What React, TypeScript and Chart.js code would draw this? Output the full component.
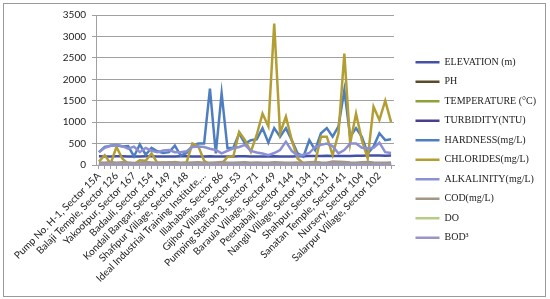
import React, { useEffect, useRef } from 'react';
import { Chart, registerables } from 'chart.js';

Chart.register(...registerables);

const categories = [
  'Pump No. H-1, Sector 15A', '', '',
  'Balaji Temple, Sector 126', '', '',
  'Yakootpur, Sector 167', '', '',
  'Badauli, Sector 154', '', '',
  'Kondali Bangar, Sector 149', '', '',
  'Shafipur Village, Sector 148', '', '',
  'Ideal Industrial Training Institute,...', '', '',
  'Illahabas, Sector 86', '', '',
  'Gijhor Village, Sector 53', '', '',
  'Pumping Station 3, Sector 71', '', '',
  'Baraula Village, Sector 49', '', '',
  'Peerbabaji, Sector 144', '', '',
  'Nangli Village, Sector 134', '', '',
  'Shahpur, Sector 131', '', '',
  'Sanatan Temple, Sector 41', '', '',
  'Nursery, Sector 104', '', '',
  'Salarpur Village, Sector 102', '', '',
];

const yTicks = [0, 500, 1000, 1500, 2000, 2500, 3000, 3500];

const seriesNames = [
  'ELEVATION (m)', 'PH', 'TEMPERATURE (°C)', 'TURBIDITY(NTU)', 'HARDNESS(mg/L)',
  'CHLORIDES(mg/L)', 'ALKALINITY(mg/L)', 'COD(mg/L)', 'DO', 'BOD³',
];

const elevation = [
  205, 200, 198, 202, 205, 200, 198, 200, 204, 206, 200, 198, 196, 200, 202, 205, 200,
  198, 200, 202, 200, 198, 196, 200, 202, 204, 200, 198, 196, 200, 202, 200, 198, 200,
  202, 205, 208, 210, 212, 215, 212, 210, 208, 212, 215, 218, 220, 222, 220, 218, 220,
];
const ph = [
  7.4, 7.2, 7.5, 7.3, 7.6, 7.4, 7.2, 7.3, 7.5, 7.4, 7.1, 7.3, 7.6, 7.4, 7.2, 7.3, 7.5,
  7.4, 7.2, 7.3, 7.5, 7.6, 7.4, 7.2, 7.3, 7.5, 7.4, 7.3, 7.2, 7.4, 7.5, 7.3, 7.4, 7.6,
  7.2, 7.3, 7.5, 7.4, 7.3, 7.2, 7.4, 7.5, 7.3, 7.4, 7.2, 7.3, 7.5, 7.4, 7.3, 7.2, 7.4,
];
const temperature = [
  26, 27, 25, 26, 28, 27, 26, 25, 27, 26, 28, 27, 26, 25, 26, 27, 28,
  26, 25, 27, 26, 27, 28, 26, 25, 26, 27, 26, 28, 27, 26, 25, 27, 26,
  28, 27, 26, 25, 26, 27, 28, 26, 27, 25, 26, 27, 26, 28, 27, 26, 25,
];
const turbidity = [
  2, 3, 1, 4, 2, 3, 5, 2, 1, 3, 2, 4, 3, 2, 1, 2, 3,
  4, 2, 3, 5, 2, 3, 1, 2, 4, 3, 2, 3, 2, 4, 3, 2, 1,
  2, 3, 4, 2, 3, 2, 1, 3, 4, 2, 3, 2, 4, 3, 2, 3, 2,
];
const hardness = [
  300, 420, 450, 460, 430, 440, 200, 480, 240, 400, 320, 280, 300, 450, 220, 280, 450,
  500, 500, 1780, 270, 1670, 390, 400, 740, 500, 580, 600, 860, 520, 860, 660, 860, 580,
  270, 195, 580, 350, 740, 860, 660, 900, 1750, 660, 860, 660, 270, 430, 740, 580, 600,
];
const chlorides = [
  80, 230, 30, 420, 150, 30, 20, 110, 100, 270, 50, 60, 40, 70, 40, 60, 500,
  440, 100, 10, 10, 30, 190, 200, 770, 580, 310, 700, 1200, 900, 3300, 740, 1130, 580,
  150, 40, 40, 60, 660, 660, 230, 740, 2600, 500, 1200, 580, 150, 1360, 1050, 1500, 1000,
];
const alkalinity = [
  300, 400, 450, 470, 440, 380, 430, 300, 400, 330, 300, 340, 350, 300, 300, 320, 420,
  430, 420, 380, 350, 270, 330, 390, 420, 470, 330, 290, 270, 230, 280, 350, 545, 330,
  220, 240, 280, 420, 470, 500, 440, 270, 350, 500, 500, 400, 390, 400, 520, 300, 280,
];
const cod = [
  60, 55, 70, 50, 65, 60, 45, 55, 70, 60, 50, 55, 65, 60, 55, 50, 60,
  65, 55, 50, 60, 70, 55, 50, 60, 65, 55, 60, 50, 55, 65, 60, 55, 50,
  60, 55, 65, 70, 60, 55, 80, 75, 70, 60, 55, 65, 70, 60, 55, 50, 60,
];
const dissolvedOxygen = [
  5.2, 5.6, 4.8, 5.1, 5.4, 4.9, 5.3, 5.0, 5.5, 4.7, 5.2, 5.1, 4.9, 5.3, 5.6, 5.0, 4.8,
  5.2, 5.4, 5.1, 4.9, 5.3, 5.0, 5.2, 5.5, 4.8, 5.1, 5.3, 4.9, 5.2, 5.0, 5.4, 5.1, 4.9,
  5.3, 5.2, 5.0, 4.8, 5.1, 5.4, 5.2, 4.9, 5.3, 5.0, 5.2, 5.1, 4.9, 5.3, 5.0, 5.2, 5.1,
];
const bod = [
  12, 10, 14, 11, 13, 12, 9, 11, 14, 12, 10, 11, 13, 12, 11, 10, 12,
  13, 11, 10, 12, 14, 11, 10, 12, 13, 11, 12, 10, 11, 13, 12, 11, 10,
  12, 11, 13, 14, 12, 11, 16, 15, 14, 12, 11, 13, 14, 12, 11, 10, 12,
];

const seriesValues = [
  elevation, ph, temperature, turbidity, hardness,
  chlorides, alkalinity, cod, dissolvedOxygen, bod,
];

const seriesColors = [
  '#4350a6', '#5b4b2b', '#8ea23a', '#4a3f8c', '#4f7ec0',
  '#b39e33', '#8b90d4', '#a39685', '#b6cc86', '#9b94c8',
];

export default function App() {
  const ref = useRef<HTMLCanvasElement | null>(null);

  useEffect(() => {
    document.body.style.margin = '0';
    const canvas = ref.current;
    if (!canvas) return;
    const n = seriesNames.length;
    const chart = new Chart(canvas, {
      type: 'line',
      data: {
        labels: categories,
        datasets: seriesNames.map((name, i) => ({
          label: name,
          data: seriesValues[i],
          borderColor: seriesColors[i],
          backgroundColor: seriesColors[i],
          borderWidth: 2.5,
          pointRadius: 0,
          pointHoverRadius: 0,
          tension: 0,
          fill: false,
          order: n - i,
        })),
      },
      options: {
        responsive: false,
        animation: false,
        devicePixelRatio: 1,
        layout: { padding: { top: 15, bottom: 14, left: 0, right: 4 } },
        plugins: {
          tooltip: { enabled: false },
          legend: {
            position: 'right',
            align: 'center',
            maxWidth: 200,
            labels: {
              boxWidth: 24,
              boxHeight: 0,
              padding: 9.5,
              color: '#222',
              font: { family: 'Liberation Serif', size: 10 },
              sort: (a: any, b: any) => a.datasetIndex - b.datasetIndex,
            },
          },
        },
        scales: {
          x: {
            type: 'category',
            offset: true,
            grid: {
              drawOnChartArea: false,
              drawTicks: true,
              tickLength: 4,
              color: '#a0a0a0',
            },
            border: { color: '#a0a0a0' },
            ticks: {
              autoSkip: false,
              minRotation: 45,
              maxRotation: 45,
              padding: 1,
              color: '#222',
              font: { family: 'Lato', size: 10 },
            },
            afterFit: (s: any) => { s.height = 120; },
          },
          y: {
            type: 'linear',
            min: yTicks[0],
            max: yTicks[yTicks.length - 1],
            afterBuildTicks: (s: any) => { s.ticks = yTicks.map((v) => ({ value: v })); },
            grid: { color: '#a0a0a0', tickLength: 4 },
            border: { color: '#a0a0a0' },
            ticks: {
              padding: 6,
              color: '#222',
              font: { family: 'Lato', size: 10 },
              callback: (v: any) => String(v),
            },
            afterFit: (s: any) => { s.width = 96; },
          },
          gap: {
            type: 'linear',
            position: 'right',
            display: true,
            grid: { display: false },
            border: { display: false },
            ticks: { display: false },
            afterFit: (s: any) => { s.width = 12; },
          },
        },
      },
    });
    return () => chart.destroy();
  }, []);

  return (
    <div style={{ position: 'relative', width: 550, height: 299 }}>
      <canvas
        ref={ref}
        width={550}
        height={299}
        style={{ position: 'absolute', left: 0, top: 0, width: 550, height: 299 }}
      />
      <div
        style={{
          position: 'absolute',
          left: 3,
          top: 3,
          width: 543,
          height: 294,
          border: '1px solid #9a9a9a',
          boxSizing: 'border-box',
          pointerEvents: 'none',
        }}
      />
    </div>
  );
}
